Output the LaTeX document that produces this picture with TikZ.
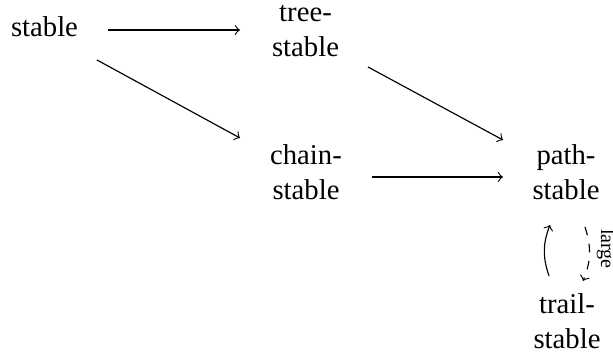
\documentclass[tikz,border=0pt]{standalone}
\usepackage{fontspec}
\setmainfont{Liberation Serif}
\usetikzlibrary{arrows.meta}
\begin{document}
\begin{tikzpicture}[x=0.3484pt,y=-0.3484pt,
  cell/.style={inner sep=0pt, align=center, font=\fontsize{10}{12}\selectfont},
  arr/.style={-{to[scale=1.25]}, line width=0.4pt},
  lbl/.style={inner sep=0pt, rotate=-90, font=\fontsize{7}{8}\selectfont}]
\useasboundingbox (0,0) rectangle (613,358);
\node[cell, anchor=base] (stable) at (44.5,37) {stable};
\node[cell] (tree) at (305.5,31) {tree-\\stable};
\node[cell] (chain) at (306,172) {chain-\\stable};
\node[cell] (path) at (566,172) {path-\\stable};
\node[cell] (trail) at (567,321) {trail-\\stable};
\draw[arr] ([shift={(63.5,-7)}]stable.base) -- ([shift={(-65.5,-1)}]tree.center);
\draw[arr] ([shift={(52.5,23)}]stable.base) -- ([shift={(-66,-34)}]chain.center);
\draw[arr] ([shift={(62.5,36)}]tree.center) -- ([shift={(-63,-32)}]path.center);
\draw[arr] ([shift={(66,5)}]chain.center) -- ([shift={(-63,5)}]path.center);
\draw[arr] ([shift={(-18,-45)}]trail.center) to[bend left=20] ([shift={(-16,53)}]path.center);
\draw[arr, dashed] ([shift={(19,55)}]path.center) to[bend left=20] ([shift={(16,-40)}]trail.center);
\node[lbl] (lg) at (606,249) {large};
\end{tikzpicture}
\end{document}
